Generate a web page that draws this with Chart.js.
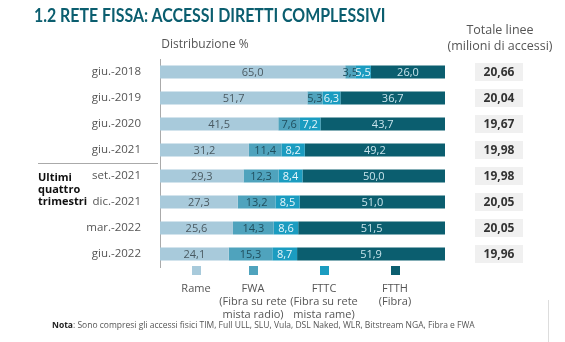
<!DOCTYPE html>
<html lang="it">
<head>
<meta charset="UTF-8">
<title>Rete fissa: accessi diretti complessivi</title>
<script src="https://cdn.jsdelivr.net/npm/chart.js"></script>
<style>
  body { margin: 0; background: #fff; font-family: 'Open Sans', sans-serif; }
  #wrap { position: relative; width: 565px; height: 342px; overflow: hidden; }
  canvas { position: absolute; left: 0; top: 0; }
  .txt { position: absolute; white-space: nowrap; }
  h1 { position: absolute; left: 34px; top: 4px; margin: 0; font-size: 18.5px; font-weight: bold;
       color: #0b5e6f; font-family: 'Lato', sans-serif; transform: scaleX(0.86); transform-origin: left top; white-space: nowrap; }
  .sub { color: #555; font-size: 12px; text-align: center; line-height: 16px; }
  .legend { position: absolute; top: 266px; text-align: center; color: #555; font-size: 11px; line-height: 13px; width: 90px; }
  .legend span { display: block; width: 9px; height: 9px; margin: 0 auto 6px; }
  .note { position: absolute; left: 52px; top: 319px; font-size: 8.5px; color: #555; }
  .note b { color: #222; }
  .last { position: absolute; left: 38px; top: 171px; font-size: 11px; font-weight: bold; line-height: 12px; color: #111; }
</style>
</head>
<body>
<div id="wrap">
  <canvas id="chart" width="565" height="342"></canvas>
  <h1>1.2 RETE FISSA: ACCESSI DIRETTI COMPLESSIVI</h1>
  <div class="txt sub" style="left:150px; top:36px; width:110px;">Distribuzione %</div>
  <div class="txt sub" style="left:440px; top:22px; width:120px; font-size:12.5px;">Totale linee<br>(milioni di accessi)</div>
  <div class="last">Ultimi<br>quattro<br>trimestri</div>
  <div class="note"><b>Nota</b>: Sono compresi gli accessi fisici TIM, Full ULL, SLU, Vula, DSL Naked, WLR, Bitstream NGA, Fibra e FWA</div>
</div>
<script>
  const periods = ["giu.-2018", "giu.-2019", "giu.-2020", "giu.-2021", "set.-2021", "dic.-2021", "mar.-2022", "giu.-2022"];
  const rame = [65.0, 51.7, 41.5, 31.2, 29.3, 27.3, 25.6, 24.1];
  const fwa = [3.5, 5.3, 7.6, 11.4, 12.3, 13.2, 14.3, 15.3];
  const fttc = [5.5, 6.3, 7.2, 8.2, 8.4, 8.5, 8.6, 8.7];
  const ftth = [26.0, 36.7, 43.7, 49.2, 50.0, 51.0, 51.5, 51.9];
  const totals = ["20,66", "20,04", "19,67", "19,98", "19,98", "20,05", "20,05", "19,96"];
  const legendLabels = [
    ["Rame"],
    ["FWA", "(Fibra su rete", "mista radio)"],
    ["FTTC", "(Fibra su rete", "mista rame)"],
    ["FTTH", "(Fibra)"]
  ];

  const colors = ["#a8cadb", "#4fa3bd", "#1b9cc0", "#0b5e6f"];
  const labelColors = ["#4a5a62", "#204f5e", "#e8f6fb", "#c8e4ec"];
  const legendX = [151, 208, 279, 350];

  // legend in html
  legendLabels.forEach((lines, i) => {
    const d = document.createElement("div");
    d.className = "legend";
    d.style.left = legendX[i] + "px";
    d.innerHTML = `<span style="background:${colors[i]}"></span>` + lines.join("<br>");
    document.getElementById("wrap").appendChild(d);
  });

  const fmt = v => v.toFixed(1).replace(".", ",");

  const extras = {
    id: "extras",
    afterDatasetsDraw(chart) {
      const ctx = chart.ctx;
      // value labels inside segments
      ctx.save();
      ctx.font = "11px 'Open Sans', sans-serif";
      ctx.textAlign = "center";
      ctx.textBaseline = "middle";
      chart.data.datasets.forEach((ds, di) => {
        chart.getDatasetMeta(di).data.forEach((bar, i) => {
          const x = (bar.x + bar.base) / 2;
          ctx.fillStyle = labelColors[di];
          ctx.fillText(fmt(ds.data[i]), x, bar.y + 1);
        });
      });
      // totals column
      const y = chart.scales.y;
      ctx.font = "bold 12px 'Open Sans', sans-serif";
      totals.forEach((t, i) => {
        const yy = y.getPixelForValue(i);
        ctx.fillStyle = "#f0f0f0";
        ctx.fillRect(475, yy - 9, 48, 18);
        ctx.fillStyle = "#333";
        ctx.fillText(t, 499, yy + 1);
      });
      // separator before the last four quarters
      const sep = (y.getPixelForValue(3) + y.getPixelForValue(4)) / 2;
      ctx.strokeStyle = "#aaa";
      ctx.lineWidth = 1;
      ctx.beginPath();
      ctx.moveTo(38, Math.round(sep) + 0.5);
      ctx.lineTo(158, Math.round(sep) + 0.5);
      ctx.stroke();
      // right border line near note
      ctx.strokeStyle = "#ddd";
      ctx.beginPath();
      ctx.moveTo(548.5, 300);
      ctx.lineTo(548.5, 342);
      ctx.stroke();
      ctx.restore();
    }
  };

  new Chart(document.getElementById("chart"), {
    type: "bar",
    data: {
      labels: periods,
      datasets: [
        { label: "Rame", data: rame, backgroundColor: colors[0] },
        { label: "FWA", data: fwa, backgroundColor: colors[1] },
        { label: "FTTC", data: fttc, backgroundColor: colors[2] },
        { label: "FTTH", data: ftth, backgroundColor: colors[3] }
      ]
    },
    options: {
      indexAxis: "y",
      responsive: false,
      animation: false,
      barPercentage: 0.5,
      categoryPercentage: 1,
      layout: { padding: { left: 0, right: 120, top: 59, bottom: 75 } },
      plugins: { legend: { display: false }, tooltip: { enabled: false } },
      scales: {
        x: { stacked: true, display: false, min: 0, max: 100 },
        y: {
          stacked: true,
          grid: { display: false },
          border: { display: true, color: "#aaa" },
          ticks: { color: "#555", font: { size: 11.5, family: "'Open Sans', sans-serif" }, padding: 11 },
          afterFit(scale) { scale.width = 160; }
        }
      }
    },
    plugins: [extras]
  });
</script>
</body>
</html>
